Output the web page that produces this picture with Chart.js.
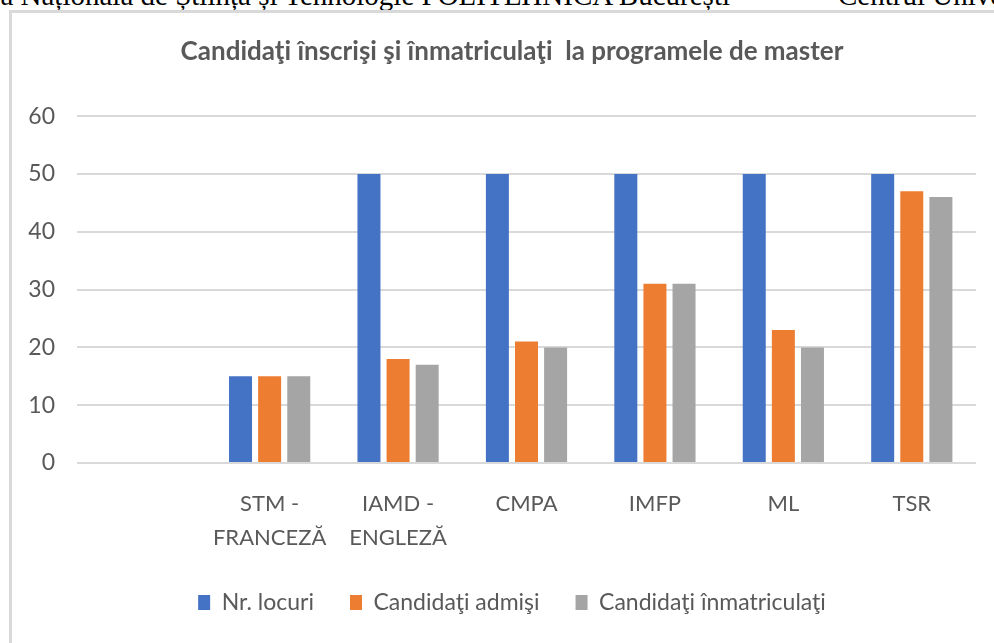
<!DOCTYPE html>
<html>
<head>
<meta charset="utf-8">
<script src="https://cdn.jsdelivr.net/npm/chart.js@4"></script>
<style>
  html, body { margin: 0; padding: 0; width: 994px; height: 643px; overflow: hidden; background: #fff; }
  .hdr { position: absolute; top: -19px; font: 29px "Liberation Serif", "Times New Roman", serif; line-height: 29px; color: #000; white-space: nowrap; }
  .frame { position: absolute; left: 9px; top: 10px; width: 1020px; height: 660px; border-left: 3px solid #d9d9d9; border-top: 3px solid #d9d9d9; }
  #wrap { position: absolute; left: 12px; top: 12px; }
</style>
</head>
<body>
<div class="hdr" style="right: 264px;">Universitatea Națională de Știință și Tehnologie POLITEHNICA București</div>
<div class="hdr" style="left: 838px;">Centrul Universitar</div>
<div class="frame"></div>
<div id="wrap"><canvas id="chart" width="1000" height="631"></canvas></div>
<script>
// date
const categories = ['', ['STM -', 'FRANCEZĂ'], ['IAMD -', 'ENGLEZĂ'], 'CMPA', 'IMFP', 'ML', 'TSR'];
const nrLocuri = [null, 15, 50, 50, 50, 50, 50];
const admisi = [null, 15, 18, 21, 31, 23, 47];
const inmatriculati = [null, 15, 17, 20, 31, 20, 46];
const yTicks = [0, 10, 20, 30, 40, 50, 60];

const textColor = '#595959';
const gridColor = '#d9d9d9';
const font = 'Lato, "Open Sans", sans-serif';

const ds = (label, data, color) => ({
    label, data, backgroundColor: color, borderWidth: 0,
    categoryPercentage: 0.68, barPercentage: 0.79
});

new Chart(document.getElementById('chart'), {
    type: 'bar',
    data: {
        labels: categories,
        datasets: [
            ds('Nr. locuri', nrLocuri, '#4472c4'),
            ds('Candidaţi admişi', admisi, '#ed7d31'),
            ds('Candidaţi înmatriculaţi', inmatriculati, '#a5a5a5')
        ]
    },
    options: {
        responsive: false,
        animation: false,
        layout: { padding: { left: 0, right: 0, top: 0, bottom: 19 } },
        plugins: {
            title: {
                display: true,
                text: 'Candidaţi înscrişi şi înmatriculaţi  la programele de master',
                color: textColor,
                font: { family: font, size: 26, weight: 'bold' },
                padding: { top: 24, bottom: 49 }
            },
            legend: {
                position: 'bottom',
                labels: {
                    color: textColor,
                    font: { family: font, size: 23 },
                    boxWidth: 12, boxHeight: 15,
                    padding: 36
                }
            },
            tooltip: { enabled: false }
        },
        scales: {
            x: {
                grid: { display: false },
                border: { display: false },
                ticks: { color: textColor, font: { family: font, size: 22, lineHeight: 1.55 }, padding: 16, maxRotation: 0, autoSkip: false },
                afterFit: (s) => { s.height = 92; }
            },
            y: {
                min: 0, max: 60,
                afterBuildTicks: (s) => { s.ticks = yTicks.map(v => ({ value: v })); },
                grid: { color: gridColor, lineWidth: 2, drawTicks: false },
                border: { display: false },
                ticks: { color: textColor, font: { family: font, size: 23 }, padding: 22 },
                afterFit: (s) => { s.width = 65; }
            },
            // axa goala din dreapta, doar pentru spatiu
            yRight: {
                position: 'right',
                grid: { display: false },
                border: { display: false },
                ticks: { display: false },
                afterFit: (s) => { s.width = 36; }
            }
        }
    }
});
</script>
</body>
</html>
